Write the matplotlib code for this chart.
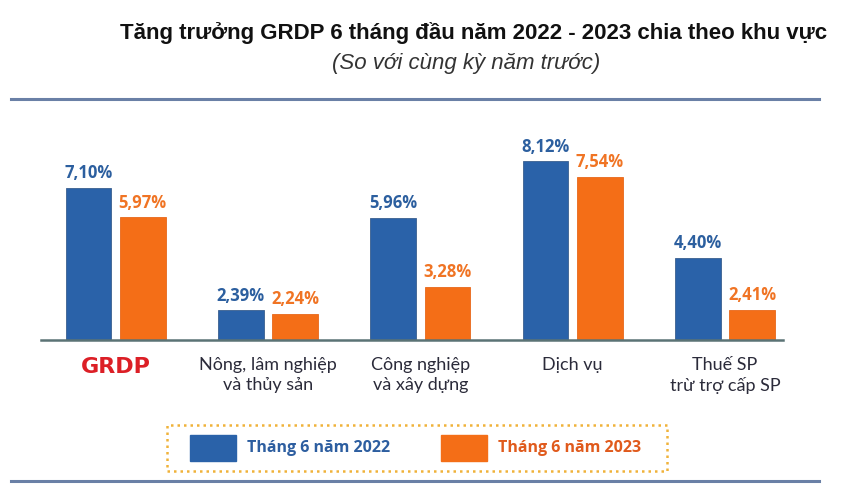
import matplotlib
matplotlib.use("Agg")
import matplotlib.pyplot as plt
from matplotlib.patches import Rectangle
import numpy as np

categories = ["GRDP", "Nông, lâm nghiệp\nvà thủy sản", "Công nghiệp\nvà xây dựng",
              "Dịch vụ", "Thuế SP\ntrừ trợ cấp SP"]
val_2022 = [7.10, 2.39, 5.96, 8.12, 4.40]
val_2023 = [5.97, 2.24, 3.28, 7.54, 2.41]
labels_2022 = ["7,10%", "2,39%", "5,96%", "8,12%", "4,40%"]
labels_2023 = ["5,97%", "2,24%", "3,28%", "7,54%", "2,41%"]
legend_names = ["Tháng 6 năm 2022", "Tháng 6 năm 2023"]

BLUE = "#2a62a9"
ORANGE = "#f46e17"
W, H = 844, 495

fig = plt.figure(figsize=(W / 100, H / 100), dpi=100)

# axes placed in pixels: baseline at y=340, axis line from x=41 to 783
ax = fig.add_axes([41 / W, (H - 340) / H, (783 - 41) / W, 240 / H])
x = np.arange(len(categories))
bw = 0.299
off = 0.178
ax.bar(x - off, val_2022, bw, color=BLUE, edgecolor="#3a5f8f", linewidth=0.6, zorder=2)
ax.bar(x + off, val_2023, bw, color=ORANGE, edgecolor="#e8681a", linewidth=0.6, zorder=2)
ax.set_xlim(-0.49, 4.38)
ax.set_ylim(1.24, 10.49)

for xi, v, t in zip(x, val_2022, labels_2022):
    ax.annotate(t, (xi - off, v), xytext=(0, 10.5), textcoords="offset points",
                ha="center", va="center", fontsize=12, fontweight="bold",
                color="#2c5f9f", family="Open Sans")
for xi, v, t in zip(x, val_2023, labels_2023):
    ax.annotate(t, (xi + off, v), xytext=(0, 10.5), textcoords="offset points",
                ha="center", va="center", fontsize=12, fontweight="bold",
                color="#f07424", family="Open Sans")

for s in ["top", "right", "left"]:
    ax.spines[s].set_visible(False)
ax.spines["bottom"].set_color("#5b7375")
ax.spines["bottom"].set_linewidth(1.8)
ax.set_yticks([])
ax.set_xticks(x)
ax.set_xticklabels(categories, fontsize=13, color="#2b2b3a", family="Lato",
                   linespacing=1.3, va="top")
ax.tick_params(axis="x", length=0, pad=12)
grdp = ax.get_xticklabels()[0]
grdp.set_color("#dc1f26")
grdp.set_fontweight("bold")
grdp.set_fontsize(16)
grdp.set_family("DejaVu Sans")

# title block
fig.text(474 / W, 1 - 33 / H, "Tăng trưởng GRDP 6 tháng đầu năm 2022 - 2023 chia theo khu vực",
         ha="center", va="center", fontsize=16, fontweight="bold",
         family="Liberation Sans", color="#111111")
fig.text(466 / W, 1 - 64 / H, "(So với cùng kỳ năm trước)", ha="center", va="center",
         fontsize=16, style="italic", family="Liberation Sans", color="#333333")

# horizontal rules
for yy in (98.5, 481):
    fig.add_artist(plt.Line2D([11 / W, 819 / W], [1 - yy / H, 1 - yy / H],
                              color="#6a80a6", linewidth=2.2))

# legend box
fig.add_artist(Rectangle((167 / W, 1 - 471 / H), 500 / W, 46 / H, fill=False,
                         edgecolor="#f0b23a", linestyle=(0, (1, 1.6)), linewidth=1.8))
legend_colors = [BLUE, ORANGE]
legend_text_colors = ["#2d5ea0", "#e05a1c"]
patch_x = [190, 441]
for px, c, tc, name in zip(patch_x, legend_colors, legend_text_colors, legend_names):
    fig.add_artist(Rectangle((px / W, 1 - 461 / H), 46 / W, 26 / H, color=c))
    fig.text((px + 57) / W, 1 - 448 / H, name, ha="left", va="center", fontsize=11.5,
             fontweight="bold", family="Open Sans", color=tc)

fig.savefig("out.png", dpi=100)
